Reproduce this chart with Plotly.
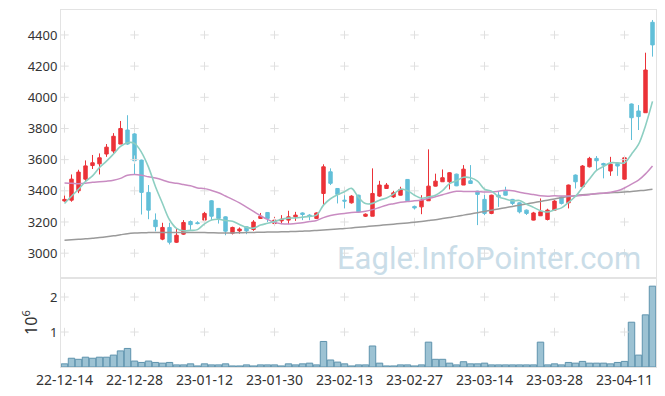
import plotly.graph_objects as go
from plotly.subplots import make_subplots
import pandas as pd

dates = [
    "22-12-14", "22-12-15", "22-12-16", "22-12-19", "22-12-20", "22-12-21", "22-12-22", "22-12-23",
    "22-12-26", "22-12-27", "22-12-28", "22-12-29",
    "23-01-02", "23-01-03", "23-01-04", "23-01-05", "23-01-06", "23-01-09", "23-01-10", "23-01-11",
    "23-01-12", "23-01-13", "23-01-16", "23-01-17", "23-01-18", "23-01-19", "23-01-20", "23-01-25",
    "23-01-26", "23-01-27", "23-01-30", "23-01-31",
    "23-02-01", "23-02-02", "23-02-03", "23-02-06", "23-02-07", "23-02-08", "23-02-09", "23-02-10",
    "23-02-13", "23-02-14", "23-02-15", "23-02-16", "23-02-17", "23-02-20", "23-02-21", "23-02-22",
    "23-02-23", "23-02-24", "23-02-27", "23-02-28",
    "23-03-02", "23-03-03", "23-03-06", "23-03-07", "23-03-08", "23-03-09", "23-03-10", "23-03-13",
    "23-03-14", "23-03-15", "23-03-16", "23-03-17", "23-03-20", "23-03-21", "23-03-22", "23-03-23",
    "23-03-24", "23-03-27", "23-03-28", "23-03-29", "23-03-30", "23-03-31",
    "23-04-03", "23-04-04", "23-04-05", "23-04-06", "23-04-07", "23-04-10", "23-04-11", "23-04-12",
    "23-04-13", "23-04-14", "23-04-17",
]

open_ = [3335, 3340, 3400, 3475, 3562, 3573, 3636, 3655, 3700, 3790,
         3765, 3597, 3390, 3212, 3090, 3165, 3070, 3122, 3203, 3195,
         3212, 3336, 3287, 3233, 3128, 3143, 3169, 3152, 3223, 3261,
         3190, 3207, 3212, 3233, 3258, 3244, 3223, 3383, 3522, 3415,
         3340, 3323, 3372, 3237, 3237, 3366, 3415, 3361, 3372, 3473,
         3300, 3297, 3336, 3430, 3458, 3458, 3507, 3437, 3464, 3398,
         3345, 3255, 3372, 3398, 3345, 3323, 3276, 3212, 3240, 3216,
         3276, 3361, 3323, 3501, 3426, 3554, 3608, 3575, 3527, 3576,
         3475, 3957, 3912, 3901, 4481]
high = [3370, 3505, 3535, 3595, 3630, 3640, 3700, 3770, 3848, 3885,
        3770, 3600, 3437, 3255, 3195, 3195, 3160, 3212, 3210, 3205,
        3265, 3340, 3290, 3236, 3170, 3165, 3172, 3212, 3258, 3263,
        3233, 3244, 3272, 3265, 3262, 3250, 3262, 3570, 3544, 3418,
        3372, 3372, 3375, 3255, 3544, 3464, 3450, 3400, 3426, 3475,
        3305, 3372, 3666, 3510, 3537, 3520, 3510, 3565, 3565, 3400,
        3383, 3375, 3394, 3426, 3348, 3326, 3280, 3265, 3351, 3285,
        3340, 3365, 3440, 3505, 3565, 3618, 3623, 3580, 3618, 3580,
        3615, 3960, 3950, 4286, 4496]
low = [3330, 3330, 3385, 3462, 3540, 3505, 3618, 3640, 3700, 3695,
       3507, 3248, 3218, 3140, 3083, 3056, 3065, 3118, 3150, 3185,
       3197, 3212, 3190, 3115, 3120, 3125, 3122, 3143, 3220, 3200,
       3186, 3186, 3186, 3207, 3212, 3212, 3220, 3308, 3437, 3319,
       3287, 3318, 3262, 3232, 3237, 3361, 3412, 3355, 3370, 3333,
       3280, 3250, 3336, 3428, 3458, 3409, 3430, 3437, 3445, 3180,
       3244, 3250, 3297, 3370, 3308, 3255, 3245, 3210, 3238, 3210,
       3272, 3312, 3287, 3415, 3420, 3550, 3533, 3480, 3496, 3496,
       3472, 3726, 3790, 3900, 4261]
close = [3345, 3475, 3520, 3560, 3580, 3612, 3680, 3750, 3800, 3700,
         3593, 3390, 3276, 3170, 3165, 3070, 3115, 3197, 3183, 3190,
         3255, 3237, 3223, 3141, 3165, 3155, 3143, 3200, 3237, 3223,
         3212, 3218, 3233, 3244, 3248, 3237, 3258, 3554, 3448, 3377,
         3334, 3366, 3265, 3250, 3383, 3437, 3437, 3387, 3409, 3336,
         3290, 3340, 3430, 3462, 3484, 3516, 3432, 3539, 3447, 3377,
         3255, 3372, 3361, 3372, 3319, 3265, 3255, 3258, 3265, 3276,
         3334, 3319, 3437, 3458, 3559, 3608, 3593, 3565, 3571, 3559,
         3612, 3869, 3876, 4175, 4336]

# volume in millions of shares
volume = [0.09, 0.25, 0.22, 0.28, 0.25, 0.28, 0.28, 0.34, 0.46, 0.53,
          0.17, 0.13, 0.17, 0.13, 0.11, 0.13, 0.06, 0.06, 0.09, 0.03,
          0.09, 0.06, 0.06, 0.09, 0.03, 0.03, 0.06, 0.03, 0.06, 0.06,
          0.06, 0.03, 0.09, 0.06, 0.09, 0.11, 0.06, 0.73, 0.20, 0.14,
          0.09, 0.03, 0.06, 0.06, 0.60, 0.11, 0.03, 0.03, 0.06, 0.06,
          0.03, 0.06, 0.71, 0.22, 0.22, 0.11, 0.06, 0.15, 0.09, 0.09,
          0.11, 0.06, 0.06, 0.06, 0.06, 0.06, 0.06, 0.06, 0.71, 0.06,
          0.09, 0.06, 0.13, 0.11, 0.16, 0.11, 0.11, 0.11, 0.09, 0.13,
          0.16, 1.28, 0.34, 1.49, 2.31]

# leading moving-average values (prior history not shown)
ma5_head = [3319, 3365, 3410, 3460]
ma20_head = [3450, 3448, 3445, 3448, 3455, 3458, 3462, 3468, 3480, 3500,
             3505, 3500, 3490, 3482, 3470, 3455, 3448, 3440, 3432]
ma60 = [3083, 3086, 3089, 3092, 3096, 3100, 3105, 3111, 3118, 3125,
        3129, 3131, 3132, 3133, 3133, 3133, 3133, 3133, 3133, 3133,
        3132, 3131, 3130, 3130, 3130, 3131, 3132, 3133, 3134, 3135,
        3136, 3137, 3138, 3139, 3141, 3143, 3146, 3149, 3152, 3155,
        3158, 3162, 3166, 3170, 3174, 3178, 3182, 3186, 3190, 3194,
        3198, 3203, 3209, 3215, 3222, 3229, 3236, 3244, 3252, 3260,
        3268, 3276, 3284, 3292, 3300, 3308, 3316, 3324, 3332, 3340,
        3348, 3356, 3363, 3369, 3374, 3378, 3381, 3384, 3387, 3390,
        3393, 3396, 3400, 3404, 3410]

tick_idx = list(range(0, 85, 10))
price_ticks = [3000, 3200, 3400, 3600, 3800, 4000, 4200, 4400]
vol_ticks = [1, 2]

xs = list(range(len(dates)))
cs = pd.Series(close, dtype=float)
ma5 = ma5_head + cs.rolling(5).mean().round(1).tolist()[len(ma5_head):]
ma20 = ma20_head + cs.rolling(20).mean().round(1).tolist()[len(ma20_head):]

UP = "#eb3238"
DOWN = "#62bfd8"
GRID = "#e0e0e0"
AX = "#e3e3e3"
FONT = "Noto Sans"

fig = make_subplots(rows=2, cols=1, shared_xaxes=True, vertical_spacing=0,
                    row_heights=[0.751, 0.249])

# grid crosses
fig.add_trace(go.Scatter(
    x=[t for t in tick_idx for _ in price_ticks],
    y=[p for _ in tick_idx for p in price_ticks],
    mode="markers", hoverinfo="skip", showlegend=False,
    marker=dict(symbol="cross-thin", size=6, line=dict(color=GRID, width=1))), row=1, col=1)
fig.add_trace(go.Scatter(
    x=[t for t in tick_idx for _ in vol_ticks],
    y=[v for _ in tick_idx for v in vol_ticks],
    mode="markers", hoverinfo="skip", showlegend=False,
    marker=dict(symbol="cross-thin", size=6, line=dict(color=GRID, width=1))), row=2, col=1)

fig.add_trace(go.Scatter(x=xs, y=ma60, mode="lines", line=dict(color="#9a9a9a", width=1.5, shape="spline"),
                         showlegend=False, hoverinfo="skip"), row=1, col=1)
fig.add_trace(go.Scatter(x=xs, y=ma20, mode="lines", line=dict(color="#c98cc2", width=1.5, shape="spline"),
                         showlegend=False, hoverinfo="skip"), row=1, col=1)
fig.add_trace(go.Scatter(x=xs, y=ma5, mode="lines", line=dict(color="#8dcfc2", width=1.6, shape="spline"),
                         showlegend=False, hoverinfo="skip"), row=1, col=1)

fig.add_trace(go.Candlestick(
    x=xs, open=open_, high=high, low=low, close=close,
    increasing=dict(line=dict(color=UP, width=1), fillcolor=UP),
    decreasing=dict(line=dict(color=DOWN, width=1), fillcolor=DOWN),
    whiskerwidth=0, showlegend=False), row=1, col=1)

fig.add_trace(go.Bar(x=xs, y=volume, marker=dict(color="#9cc2d3", line=dict(color="#5e93ad", width=1)),
                     showlegend=False), row=2, col=1)

# page has an 8px body margin: size figure to fit inside the 665x396 window
fig.update_layout(
    width=649, height=380,
    margin=dict(l=53, r=1, t=2, b=21, autoexpand=False),
    paper_bgcolor="white", plot_bgcolor="white",
    font=dict(family=FONT, size=13, color="#333333"),
    bargap=0.08,
    annotations=[dict(text="Eagle.InfoPointer.com", xref="paper", yref="paper", x=0.72, y=0.305,
                      xanchor="center", yanchor="middle",
                      showarrow=False, font=dict(family="Roboto", size=31, color="#cadde8"))],
)

common_x = dict(range=[-0.5, 84.5], showgrid=False, showline=True, linecolor=AX, zeroline=False,
                mirror=True, ticks="", tickvals=tick_idx, ticktext=[dates[i] for i in tick_idx],
                rangeslider=dict(visible=False), automargin=False, tickfont=dict(size=14))
fig.update_xaxes(**common_x, row=1, col=1)
fig.update_xaxes(**common_x, row=2, col=1)
fig.update_xaxes(showticklabels=False, row=1, col=1)

fig.update_yaxes(range=[2840, 4560], tickvals=price_ticks, showgrid=False, zeroline=False, automargin=False,
                 showline=True, linecolor=AX, mirror=True, ticks="", row=1, col=1)
fig.update_yaxes(range=[0, 2.54], tickvals=vol_ticks, showgrid=False, zeroline=False, automargin=False,
                 showline=True, linecolor=AX, mirror=True, ticks="",
                 title=dict(text="10<sup>6</sup>", standoff=8), row=2, col=1)

fig.write_html("out.html")
